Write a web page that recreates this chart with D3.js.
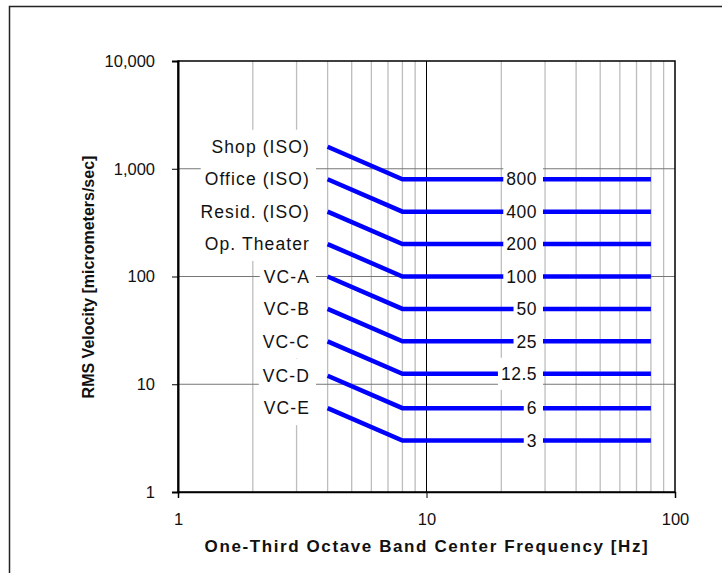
<!DOCTYPE html>
<html>
<head>
<meta charset="utf-8">
<script src="https://cdn.jsdelivr.net/npm/d3@7"></script>
<style>
  body { margin: 0; background: #fff; }
  svg { display: block; font-family: "Liberation Sans", Arial, sans-serif; }
</style>
</head>
<body>
<div class="chart"></div>
<script>
// 数据
const curveNames = ["Shop (ISO)", "Office (ISO)", "Resid. (ISO)", "Op. Theater", "VC-A", "VC-B", "VC-C", "VC-D", "VC-E"]
const startValues = [1600, 800, 400, 200, 100, 50, 25, 12, 6]      // 4 Hz
const flatValues = [800, 400, 200, 100, 50, 25, 12.5, 6, 3]        // 8 - 80 Hz
const flatLabels = ["800", "400", "200", "100", "50", "25", "12.5", "6", "3"]
const freqPoints = [4, 8, 80]
const xTicks = [1, 10, 100]
const yTicks = [1, 10, 100, 1000, 10000]
const minorFreqs = [2, 3, 4, 5, 6, 7, 8, 9, 20, 30, 40, 50, 60, 70, 80, 90]
const majorRows = [10, 100, 1000]

const width = 722
const height = 573
const plotLeft = 178, plotRight = 675, plotTop = 61, plotBottom = 492

const svg = d3.select(".chart").append("svg")
	.attr("width", width)
	.attr("height", height)

// 外框
svg.append("rect")
	.attr("x", 9.5).attr("y", 6.5)
	.attr("width", 740).attr("height", 600)
	.attr("fill", "none")
	.attr("stroke", "#222")
	.attr("stroke-width", 1.5)

const x = d3.scaleLog().domain([1, 100]).range([plotLeft, plotRight])
const y = d3.scaleLog().domain([1, 10000]).range([plotBottom, plotTop])

// 网格线
svg.append("g").selectAll("line")
	.data(minorFreqs)
	.enter()
	.append("line")
	.attr("x1", d => x(d)).attr("x2", d => x(d))
	.attr("y1", plotTop).attr("y2", plotBottom)
	.attr("stroke", "#bdbdbd")
	.attr("stroke-width", 1.3)

svg.append("g").selectAll("line")
	.data(majorRows)
	.enter()
	.append("line")
	.attr("x1", plotLeft).attr("x2", plotRight)
	.attr("y1", d => y(d)).attr("y2", d => y(d))
	.attr("stroke", "#777")
	.attr("stroke-width", 1)

svg.append("line")
	.attr("x1", x(10)).attr("x2", x(10))
	.attr("y1", plotTop).attr("y2", plotBottom)
	.attr("stroke", "#000")
	.attr("stroke-width", 1)

// 绘图区边框
svg.append("rect")
	.attr("x", plotLeft).attr("y", plotTop)
	.attr("width", plotRight - plotLeft).attr("height", plotBottom - plotTop)
	.attr("fill", "none")
	.attr("stroke", "#000")
	.attr("stroke-width", 1.5)

// 振动标准曲线
const line = d3.line()
	.x(d => x(d[0]))
	.y(d => y(d[1]))

svg.append("g").selectAll("path")
	.data(curveNames.map((n, i) => [[freqPoints[0], startValues[i]], [freqPoints[1], flatValues[i]], [freqPoints[2], flatValues[i]]]))
	.enter()
	.append("path")
	.attr("d", line)
	.attr("fill", "none")
	.attr("stroke", "#0000ff")
	.attr("stroke-width", 4.5)

// 左侧曲线名称（白底）
svg.append("g").selectAll("g")
	.data(curveNames)
	.enter()
	.append("g")
	.each(function (d, i) {
		const g = d3.select(this)
		const t = g.append("text")
			.text(d)
			.attr("x", 310)
			.attr("y", y(startValues[i]))
			.attr("dy", "0.36em")
			.attr("text-anchor", "end")
			.attr("font-size", "17.5px")
			.attr("letter-spacing", "1.1px")
			.attr("fill", "#111")
		const w = t.node().getComputedTextLength()
		g.insert("rect", "text")
			.attr("x", 310 - w - 4)
			.attr("y", y(startValues[i]) - 17)
			.attr("width", w + 10)
			.attr("height", 34)
			.attr("fill", "#fff")
	})

// 右侧数值标签（白底）
svg.append("g").selectAll("g")
	.data(flatLabels)
	.enter()
	.append("g")
	.each(function (d, i) {
		const g = d3.select(this)
		const t = g.append("text")
			.text(d)
			.attr("x", 537)
			.attr("y", y(flatValues[i]))
			.attr("dy", "0.36em")
			.attr("text-anchor", "end")
			.attr("font-size", "17.5px")
			.attr("letter-spacing", "0.5px")
			.attr("fill", "#111")
		const w = t.node().getComputedTextLength()
		g.insert("rect", "text")
			.attr("x", 537 - w - 3)
			.attr("y", y(flatValues[i]) - 16)
			.attr("width", w + 9)
			.attr("height", 32)
			.attr("fill", "#fff")
	})

// 坐标轴
const yAxis = svg.append("g")
	.attr("transform", `translate(${plotLeft},0)`)
	.call(d3.axisLeft(y).tickValues(yTicks).tickFormat(d3.format(",")).tickSize(6).tickPadding(17))
yAxis.select(".domain").attr("stroke-width", 2)
yAxis.selectAll("text").attr("font-size", "16.5px").attr("font-family", "Liberation Sans, Arial").attr("fill", "#111")

const xAxis = svg.append("g")
	.attr("transform", `translate(0,${plotBottom})`)
	.call(d3.axisBottom(x).tickValues(xTicks).tickFormat(d3.format("d")).tickSize(6).tickPadding(15))
xAxis.select(".domain").attr("stroke-width", 1.5)
xAxis.selectAll("text").attr("font-size", "16.5px").attr("font-family", "Liberation Sans, Arial").attr("fill", "#111")

// 轴标题
svg.append("text")
	.text("One-Third Octave Band Center Frequency [Hz]")
	.attr("x", 427)
	.attr("y", 552)
	.attr("text-anchor", "middle")
	.attr("font-size", "17px")
	.attr("font-weight", "bold")
	.attr("letter-spacing", "1.6px")
	.attr("fill", "#111")

svg.append("text")
	.text("RMS Velocity [micrometers/sec]")
	.attr("transform", "translate(94,277) rotate(-90)")
	.attr("text-anchor", "middle")
	.attr("font-size", "16px")
	.attr("font-weight", "bold")
	.attr("fill", "#111")
</script>
</body>
</html>
